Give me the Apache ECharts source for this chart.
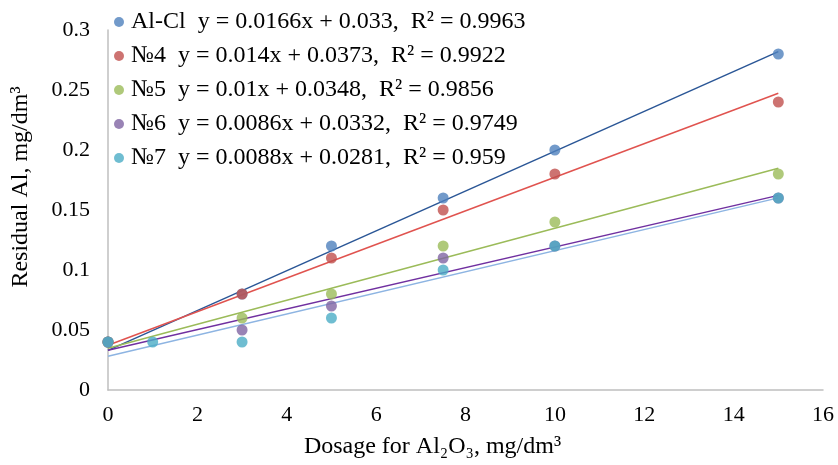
<!DOCTYPE html>
<html><head><meta charset="utf-8">
<script src="https://cdn.jsdelivr.net/npm/echarts@6/dist/echarts.min.js"></script>
<style>html,body{margin:0;padding:0;background:#fff}#c{width:838px;height:465px}</style>
</head><body><div id="c"></div>
<script>
const seriesNames = ['Al-Cl', '№4', '№5', '№6', '№7'];
const xAlCl = [0, 3, 5, 7.5, 10, 15];
const yAlCl = [0.04, 0.08, 0.12, 0.16, 0.20, 0.28];
const xN4 = [0, 3, 5, 7.5, 10, 15];
const yN4 = [0.04, 0.08, 0.11, 0.15, 0.18, 0.24];
const xN5 = [0, 3, 5, 7.5, 10, 15];
const yN5 = [0.04, 0.06, 0.08, 0.12, 0.14, 0.18];
const xN6 = [0, 3, 5, 7.5, 10, 15];
const yN6 = [0.04, 0.05, 0.07, 0.11, 0.12, 0.16];
const xN7 = [0, 1, 3, 5, 7.5, 10, 15];
const yN7 = [0.04, 0.04, 0.04, 0.06, 0.10, 0.12, 0.16];
const slopes = [0.0166, 0.014, 0.01, 0.0086, 0.0088];
const intercepts = [0.033, 0.0373, 0.0348, 0.0332, 0.0281];
const equations = ['y = 0.0166x + 0.033,  R² = 0.9963', 'y = 0.014x + 0.0373,  R² = 0.9922',
  'y = 0.01x + 0.0348,  R² = 0.9856', 'y = 0.0086x + 0.0332,  R² = 0.9749', 'y = 0.0088x + 0.0281,  R² = 0.959'];
const trendRange = [0, 15];

const xs = [xAlCl, xN4, xN5, xN6, xN7];
const ys = [yAlCl, yN4, yN5, yN6, yN7];
const markerColors = ['#4F81BD', '#C0504D', '#9BBB59', '#8064A2', '#4BACC6'];
const lineColors = ['#2A5696', '#E0534F', '#9BBB59', '#7030A0', '#8DB4E2'];
const font = 'Liberation Serif';

const series = [];
seriesNames.forEach((n, i) => {
  series.push({
    name: n + ' trend', type: 'line', silent: true, symbol: 'none',
    lineStyle: {color: lineColors[i], width: 1.5}, z: 1,
    data: trendRange.map(x => [x, slopes[i] * x + intercepts[i]])
  });
});
seriesNames.forEach((n, i) => {
  series.push({
    name: n, type: 'scatter', symbolSize: 11, z: 3,
    itemStyle: {color: markerColors[i]},
    data: xs[i].map((x, j) => [x, ys[i][j]])
  });
});

const chart = echarts.init(document.getElementById('c'));
chart.setOption({
  animation: false,
  backgroundColor: '#fff',
  grid: {left: 108, right: 15, top: 30, bottom: 75},
  legend: {
    data: seriesNames.map(n => ({name: n, icon: 'circle'})),
    orient: 'vertical', left: 114, top: 9, itemGap: 8,
    itemWidth: 10, itemHeight: 10, padding: 0,
    textStyle: {fontFamily: font, fontSize: 24, color: '#000', padding: [0, 0, 0, 2], lineHeight: 26},
    formatter: name => name + '  ' + equations[seriesNames.indexOf(name)]
  },
  xAxis: {
    type: 'value', min: 0, max: 16, interval: 2,
    axisLine: {show: true, lineStyle: {color: '#BFBFBF', width: 1.5}},
    axisTick: {show: false}, splitLine: {show: false},
    axisLabel: {fontFamily: font, fontSize: 22, color: '#000', margin: 14},
    name: 'Dosage for Al₂O₃, mg/dm³', nameLocation: 'middle', nameGap: 45,
    nameTextStyle: {fontFamily: font, fontSize: 24, color: '#000', padding: [0, 66, 0, 0]}
  },
  yAxis: {
    type: 'value', min: 0, max: 0.3, interval: 0.05,
    axisLine: {show: true, lineStyle: {color: '#BFBFBF', width: 1.5}},
    axisTick: {show: false}, splitLine: {show: false},
    axisLabel: {fontFamily: font, fontSize: 22, color: '#000', margin: 18,
      formatter: v => String(+v.toFixed(2))},
    name: 'Residual Al, mg/dm³', nameLocation: 'middle', nameGap: 75,
    nameTextStyle: {fontFamily: font, fontSize: 24, color: '#000', padding: [0, 0, 0, 46]}
  },
  series: series
});
</script></body></html>
